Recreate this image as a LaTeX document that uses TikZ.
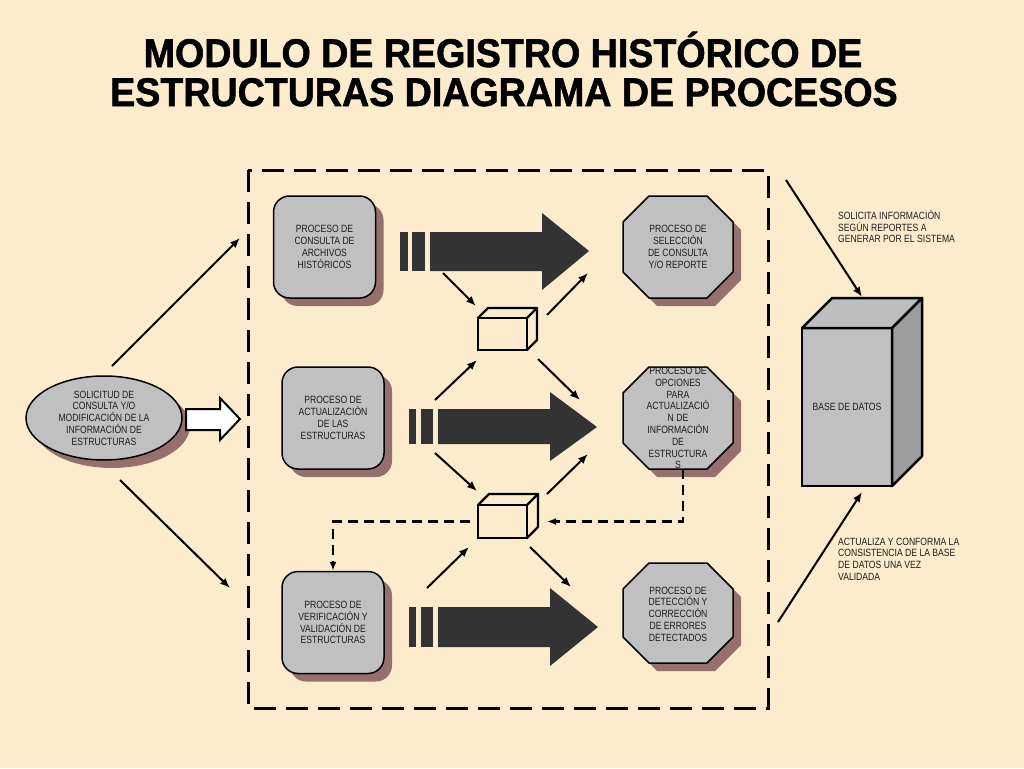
\documentclass[tikz,border=0pt]{standalone}
\usepackage{fontspec}
\setmainfont{Liberation Sans}
\newfontfamily\nar[FakeStretch=0.82]{Liberation Sans}
\newfontfamily\ttl[FakeStretch=0.94,FakeBold=1.4]{Liberation Sans}
\usetikzlibrary{arrows.meta,shadows,calc,shapes.geometric}
\definecolor{bgc}{RGB}{252,235,205}
\definecolor{boxc}{RGB}{192,192,192}
\definecolor{shadc}{RGB}{150,112,108}
\definecolor{darkc}{RGB}{51,51,51}
\definecolor{txtc}{RGB}{30,30,30}
\definecolor{dbtop}{RGB}{190,190,190}
\definecolor{dbside}{RGB}{158,158,158}
\begin{document}
\begin{tikzpicture}[x=1pt,y=-1pt,
  txt/.style={font=\nar\fontsize{10.5}{11.8}\selectfont, text=txtc, align=center, inner sep=0pt},
  shad/.style={drop shadow={shadow xshift=8pt,shadow yshift=-8pt,fill=shadc,opacity=1}},
  pbox/.style={txt, draw=black, line width=1.5pt, fill=boxc, rounded corners=16pt, minimum width=102pt, minimum height=102pt, shad},
  octa/.style={draw=black, line width=1.5pt, fill=boxc, line join=round, shad},
  conn/.style={line width=2pt, -{Latex[length=10pt,width=8pt]}},
  dconn/.style={line width=2.2pt, dash pattern=on 10pt off 6pt, -{Latex[length=9pt,width=7pt]}},
  cubeface/.style={draw=black, line width=2.2pt, line join=round},
  cubefront/.style={draw=black, line width=2.2pt, inner sep=0pt, outer sep=0pt, minimum width=49pt},
  big/.style={fill=darkc},
  ttlstyle/.style={font=\ttl\bfseries\fontsize{40}{39}\selectfont, text=black, inner sep=0pt, anchor=base}
]
\useasboundingbox (0,0) rectangle (1024,768);
\fill[bgc] (0,0) rectangle (1024,768);

% title
\node[ttlstyle] (title1) at (503,67) {MODULO DE REGISTRO HISTÓRICO DE};
\node[ttlstyle] (title2) at (504,106) {ESTRUCTURAS DIAGRAMA DE PROCESOS};

% dashed frame
\draw[line width=3pt, dash pattern=on 22pt off 10pt] (248,170) rectangle (768,708);

% process boxes
\node[pbox] (b1) at (324.5,247) {PROCESO DE\\CONSULTA DE\\ARCHIVOS\\HISTÓRICOS};
\node[pbox] (b2) at (333,418) {PROCESO DE\\ACTUALIZACIÓN\\DE LAS\\ESTRUCTURAS};
\node[pbox] (b3) at (333,622.5) {PROCESO DE\\VERIFICACIÓN Y\\VALIDACIÓN DE\\ESTRUCTURAS};

% octagons
\draw[octa] (649,196) -- (707,196) -- (733,222) -- (733,272) -- (707,298) -- (649,298) -- (623,272) -- (623,222) -- cycle;
\node[txt] (o1) at (678,247) {PROCESO DE\\SELECCIÓN\\DE CONSULTA\\Y/O REPORTE};
\draw[octa] (649,367) -- (707,367) -- (733,393) -- (733,443) -- (707,469) -- (649,469) -- (623,443) -- (623,393) -- cycle;
\node[txt] (o2) at (678,418) {PROCESO DE\\OPCIONES\\PARA\\ACTUALIZACIÓ\\N DE\\INFORMACIÓN\\DE\\ESTRUCTURA\\S};
\draw[octa] (649,563) -- (707,563) -- (733,589) -- (733,637) -- (707,663) -- (649,663) -- (623,637) -- (623,589) -- cycle;
\node[txt] (o3) at (678,614) {PROCESO DE\\DETECCIÓN Y\\CORRECCIÓN\\DE ERRORES\\DETECTADOS};

% request ellipse
\node[txt, ellipse, draw=black, line width=1.5pt, fill=boxc, minimum width=156pt, minimum height=84pt, shad] (sol) at (104,418)
  {SOLICITUD DE\\CONSULTA Y/O\\MODIFICACIÓN DE LA\\INFORMACIÓN DE\\ESTRUCTURAS};

% hollow arrow
\draw[line width=2pt, fill=white, line join=miter] (186,409) -- (220,409) -- (220,398) -- (240,419) -- (220,440) -- (220,430) -- (186,430) -- cycle;

% big dark arrows
\fill[big] (400,232) rectangle (408,271);
\fill[big] (412,232) rectangle (425,271);
\fill[big] (430,232) -- (542,232) -- (542,213) -- (589,251) -- (542,290) -- (542,271) -- (430,271) -- cycle;
\fill[big] (409,409) rectangle (416,444);
\fill[big] (421,409) rectangle (433,444);
\fill[big] (438,409) -- (550,409) -- (550,392) -- (597,427) -- (550,461) -- (550,444) -- (438,444) -- cycle;
\fill[big] (409,607) rectangle (416,647);
\fill[big] (421,607) rectangle (433,647);
\fill[big] (438,607) -- (550,607) -- (550,588) -- (598,627) -- (550,666) -- (550,647) -- (438,647) -- cycle;

% cubes
\node[cubefront, minimum height=32pt] (c1) at (502.5,334) {};
\draw[cubeface] (c1.north west) -- ++(10,-10) -- ++(49,0) -- (c1.north east);
\draw[cubeface] ($(c1.north east)+(10,-10)$) -- ++(0,32) -- (c1.south east);
\node[cubefront, minimum height=33pt] (c2) at (502.5,521.5) {};
\draw[cubeface] (c2.north west) -- ++(11,-11) -- ++(49,0) -- (c2.north east);
\draw[cubeface] ($(c2.north east)+(11,-11)$) -- ++(0,33) -- (c2.south east);

% database
\node[txt, draw=black, line width=2.5pt, fill=boxc, minimum width=90pt, minimum height=158pt, outer sep=0pt] (db) at (847,407) {BASE DE DATOS};
\draw[line width=2.5pt, fill=dbtop, line join=round] (db.north west) -- ++(30,-30) -- ++(90,0) -- (db.north east) -- cycle;
\draw[line width=2.5pt, fill=dbside, line join=round] (db.north east) -- ++(30,-30) -- ++(0,158) -- (db.south east) -- cycle;

% connector end points
\coordinate (r1a) at (443,273); \coordinate (r1b) at (476,306);
\coordinate (r1c) at (547,315); \coordinate (r1d) at (588,273);
\coordinate (r2a) at (435,400); \coordinate (r2b) at (477,360);
\coordinate (r2c) at (538,359); \coordinate (r2d) at (580,400);
\coordinate (r2e) at (435,453); \coordinate (r2f) at (477,491);
\coordinate (r2g) at (547,494); \coordinate (r2h) at (588,454);
\coordinate (r3a) at (427,588); \coordinate (r3b) at (469,547);
\coordinate (r3c) at (530,547); \coordinate (r3d) at (571,587);
\coordinate (s1) at (112,366); \coordinate (s1e) at (240,238);
\coordinate (s2) at (120,480); \coordinate (s2e) at (230,588);
\coordinate (d1) at (786,180); \coordinate (d1e) at (862,297);
\coordinate (d2) at (778,622); \coordinate (d2e) at (862,492);
\coordinate (o2b) at (683,469);

\draw[conn] (r1a) -- (r1b);
\draw[conn] (r1c) -- (r1d);
\draw[conn] (r2a) -- (r2b);
\draw[conn] (r2c) -- (r2d);
\draw[conn] (r2e) -- (r2f);
\draw[conn] (r2g) -- (r2h);
\draw[conn] (r3a) -- (r3b);
\draw[conn] (r3c) -- (r3d);
\draw[conn] (s1) -- (s1e);
\draw[conn] (s2) -- (s2e);
\draw[conn] (d1) -- (d1e);
\draw[conn] (d2) -- (d2e);

% dashed feedback connectors
\draw[dconn] (o2b) |- ([xshift=20pt]c2.east);
\draw[dconn] ([xshift=-8pt]c2.west) -| (b3.north);

% right labels
\node[txt, align=left, anchor=north west] (lab1) at (838,210) {SOLICITA INFORMACIÓN\\SEGÚN REPORTES A\\GENERAR POR EL SISTEMA};
\node[txt, align=left, anchor=north west] (lab2) at (838,537.5) {ACTUALIZA Y CONFORMA LA\\CONSISTENCIA DE LA BASE\\DE DATOS UNA VEZ\\VALIDADA};
\end{tikzpicture}
\end{document}
